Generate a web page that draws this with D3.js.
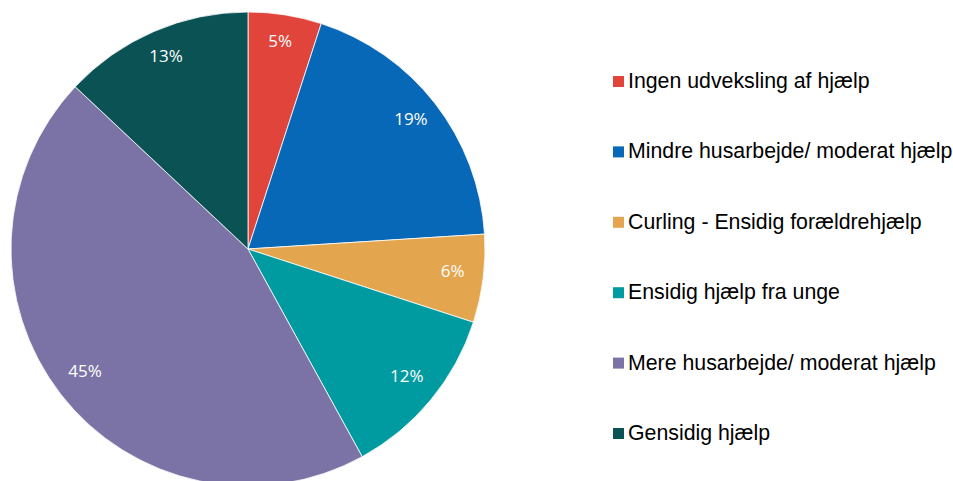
<!DOCTYPE html>
<html>
<head>
<meta charset="utf-8">
<script src="https://cdn.jsdelivr.net/npm/d3@7"></script>
<style>
  html, body { margin: 0; padding: 0; background: #fff; }
  svg { display: block; }
</style>
</head>
<body>
<svg id="chart" width="953" height="481"></svg>
<script>
// Fordeling af hjælp mellem forældre og unge (procent)
const categories = [
  "Ingen udveksling af hjælp",
  "Mindre husarbejde/ moderat hjælp",
  "Curling - Ensidig forældrehjælp",
  "Ensidig hjælp fra unge",
  "Mere husarbejde/ moderat hjælp",
  "Gensidig hjælp"
];
const values = [5, 19, 6, 12, 45, 13];
const colors = ["#E0443A", "#0868B8", "#E3A54E", "#009BA1", "#7B73A5", "#0B5254"];

const svg = d3.select("#chart");
const cx = 248, cy = 249, radius = 237;

const data = categories.map((c, i) => ({ name: c, value: values[i], color: colors[i] }));

const pie = d3.pie().value(d => d.value).sort(null);
const arcs = pie(data);

const arc = d3.arc().innerRadius(0).outerRadius(radius);
const labelArc = d3.arc().innerRadius(radius * 0.87).outerRadius(radius * 0.87);

const g = svg.append("g").attr("transform", `translate(${cx},${cy})`);

g.selectAll("path.slice")
  .data(arcs)
  .join("path")
  .attr("class", "slice")
  .attr("d", arc)
  .attr("fill", d => d.data.color)
  .attr("stroke", "#fff")
  .attr("stroke-width", 0.8);

g.selectAll("text.pct")
  .data(arcs)
  .join("text")
  .attr("class", "pct")
  .attr("transform", d => `translate(${labelArc.centroid(d)})`)
  .attr("text-anchor", "middle")
  .attr("dy", "0.12em")
  .attr("font-family", "'Open Sans', 'Noto Sans', sans-serif")
  .attr("font-size", 17)
  .attr("fill", "#fff")
  .text(d => d3.format(".0f")(d.data.value) + "%");

// Forklaring
const legendX = 613, legendY0 = 88, legendStep = 70.4;
const legend = svg.append("g");
const items = legend.selectAll("g.item")
  .data(data)
  .join("g")
  .attr("class", "item")
  .attr("transform", (d, i) => `translate(${legendX},${legendY0 + i * legendStep})`);

items.append("rect")
  .attr("x", 0)
  .attr("y", -12)
  .attr("width", 11)
  .attr("height", 11)
  .attr("fill", d => d.color);

items.append("text")
  .attr("x", 15)
  .attr("y", 0)
  .attr("font-family", "'Liberation Sans', Arial, sans-serif")
  .attr("font-size", 21.3)
  .attr("fill", "#000")
  .text(d => d.name);
</script>
</body>
</html>
